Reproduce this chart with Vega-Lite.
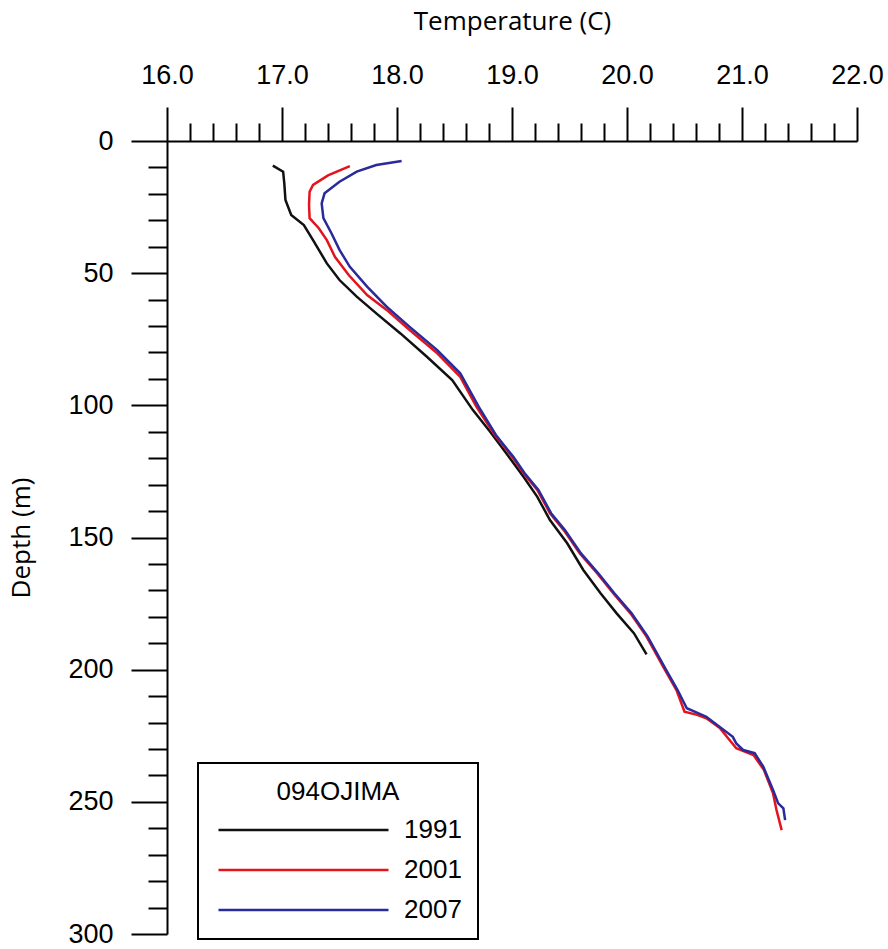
{
  "$schema": "https://vega.github.io/schema/vega-lite/v6.json",
  "autosize": {"type": "none"},
  "padding": {"left": 167, "top": 141, "right": 31, "bottom": 15},
  "width": 690,
  "height": 793,
  "background": "white",
  "config": {
    "view": {"stroke": null},
    "axis": {
      "domainColor": "black", "domainWidth": 2, "tickColor": "black", "tickWidth": 2,
      "labelColor": "black", "labelFont": "Liberation Sans", "labelFontSize": 27,
      "labelFlush": false, "labelOverlap": false,
      "titleFont": "Open Sans", "titleFontSize": 26, "titleFontWeight": "normal", "titleColor": "black",
      "grid": false
    },
    "legend": {
      "labelFont": "Liberation Sans", "labelFontSize": 26, "labelColor": "black",
      "titleFont": "Liberation Sans", "titleFontSize": 26, "titleFontWeight": "normal", "titleColor": "black",
      "strokeWidth": 2
    }
  },
  "data": {"values": [
    {"year": "1991", "depth": 9.3, "temp": 16.92},
    {"year": "1991", "depth": 11.6, "temp": 17.01},
    {"year": "1991", "depth": 16.0, "temp": 17.02},
    {"year": "1991", "depth": 22.3, "temp": 17.03},
    {"year": "1991", "depth": 28.0, "temp": 17.08},
    {"year": "1991", "depth": 31.8, "temp": 17.19},
    {"year": "1991", "depth": 37.5, "temp": 17.27},
    {"year": "1991", "depth": 46.3, "temp": 17.39},
    {"year": "1991", "depth": 52.6, "temp": 17.50},
    {"year": "1991", "depth": 58.9, "temp": 17.65},
    {"year": "1991", "depth": 65.2, "temp": 17.82},
    {"year": "1991", "depth": 72.8, "temp": 18.03},
    {"year": "1991", "depth": 81.6, "temp": 18.26},
    {"year": "1991", "depth": 90.4, "temp": 18.48},
    {"year": "1991", "depth": 101.8, "temp": 18.66},
    {"year": "1991", "depth": 110.0, "temp": 18.81},
    {"year": "1991", "depth": 118.1, "temp": 18.95},
    {"year": "1991", "depth": 127.0, "temp": 19.10},
    {"year": "1991", "depth": 134.6, "temp": 19.22},
    {"year": "1991", "depth": 143.4, "temp": 19.33},
    {"year": "1991", "depth": 152.2, "temp": 19.48},
    {"year": "1991", "depth": 162.3, "temp": 19.62},
    {"year": "1991", "depth": 171.1, "temp": 19.77},
    {"year": "1991", "depth": 178.7, "temp": 19.91},
    {"year": "1991", "depth": 186.2, "temp": 20.06},
    {"year": "1991", "depth": 194.2, "temp": 20.17},
    {"year": "2001", "depth": 9.5, "temp": 17.59},
    {"year": "2001", "depth": 13.0, "temp": 17.40},
    {"year": "2001", "depth": 16.6, "temp": 17.27},
    {"year": "2001", "depth": 19.2, "temp": 17.24},
    {"year": "2001", "depth": 24.0, "temp": 17.235},
    {"year": "2001", "depth": 29.2, "temp": 17.24},
    {"year": "2001", "depth": 33.0, "temp": 17.32},
    {"year": "2001", "depth": 37.5, "temp": 17.39},
    {"year": "2001", "depth": 43.8, "temp": 17.46},
    {"year": "2001", "depth": 50.7, "temp": 17.58},
    {"year": "2001", "depth": 58.3, "temp": 17.74},
    {"year": "2001", "depth": 63.9, "temp": 17.91},
    {"year": "2001", "depth": 71.5, "temp": 18.11},
    {"year": "2001", "depth": 80.3, "temp": 18.35},
    {"year": "2001", "depth": 89.2, "temp": 18.55},
    {"year": "2001", "depth": 100.5, "temp": 18.69},
    {"year": "2001", "depth": 111.2, "temp": 18.85},
    {"year": "2001", "depth": 119.4, "temp": 19.00},
    {"year": "2001", "depth": 125.7, "temp": 19.10},
    {"year": "2001", "depth": 132.0, "temp": 19.22},
    {"year": "2001", "depth": 140.8, "temp": 19.33},
    {"year": "2001", "depth": 147.2, "temp": 19.45},
    {"year": "2001", "depth": 156.0, "temp": 19.59},
    {"year": "2001", "depth": 163.5, "temp": 19.74},
    {"year": "2001", "depth": 171.1, "temp": 19.88},
    {"year": "2001", "depth": 178.7, "temp": 20.03},
    {"year": "2001", "depth": 187.5, "temp": 20.17},
    {"year": "2001", "depth": 200.1, "temp": 20.33},
    {"year": "2001", "depth": 207.7, "temp": 20.43},
    {"year": "2001", "depth": 215.9, "temp": 20.50},
    {"year": "2001", "depth": 217.1, "temp": 20.61},
    {"year": "2001", "depth": 218.4, "temp": 20.69},
    {"year": "2001", "depth": 222.2, "temp": 20.81},
    {"year": "2001", "depth": 229.7, "temp": 20.95},
    {"year": "2001", "depth": 232.3, "temp": 21.10},
    {"year": "2001", "depth": 237.9, "temp": 21.19},
    {"year": "2001", "depth": 246.8, "temp": 21.27},
    {"year": "2001", "depth": 253.1, "temp": 21.30},
    {"year": "2001", "depth": 260.7, "temp": 21.345},
    {"year": "2007", "depth": 7.6, "temp": 18.04},
    {"year": "2007", "depth": 9.1, "temp": 17.82},
    {"year": "2007", "depth": 11.6, "temp": 17.65},
    {"year": "2007", "depth": 15.4, "temp": 17.50},
    {"year": "2007", "depth": 19.8, "temp": 17.37},
    {"year": "2007", "depth": 23.6, "temp": 17.345},
    {"year": "2007", "depth": 29.2, "temp": 17.36},
    {"year": "2007", "depth": 34.9, "temp": 17.43},
    {"year": "2007", "depth": 41.2, "temp": 17.50},
    {"year": "2007", "depth": 47.6, "temp": 17.59},
    {"year": "2007", "depth": 55.1, "temp": 17.74},
    {"year": "2007", "depth": 62.7, "temp": 17.91},
    {"year": "2007", "depth": 70.3, "temp": 18.11},
    {"year": "2007", "depth": 79.1, "temp": 18.35},
    {"year": "2007", "depth": 87.9, "temp": 18.55},
    {"year": "2007", "depth": 100.5, "temp": 18.71},
    {"year": "2007", "depth": 111.2, "temp": 18.86},
    {"year": "2007", "depth": 119.4, "temp": 19.01},
    {"year": "2007", "depth": 125.7, "temp": 19.11},
    {"year": "2007", "depth": 132.0, "temp": 19.23},
    {"year": "2007", "depth": 140.8, "temp": 19.34},
    {"year": "2007", "depth": 147.2, "temp": 19.46},
    {"year": "2007", "depth": 156.0, "temp": 19.60},
    {"year": "2007", "depth": 163.5, "temp": 19.75},
    {"year": "2007", "depth": 171.1, "temp": 19.89},
    {"year": "2007", "depth": 178.7, "temp": 20.04},
    {"year": "2007", "depth": 187.5, "temp": 20.18},
    {"year": "2007", "depth": 200.1, "temp": 20.34},
    {"year": "2007", "depth": 207.7, "temp": 20.44},
    {"year": "2007", "depth": 214.6, "temp": 20.52},
    {"year": "2007", "depth": 217.8, "temp": 20.69},
    {"year": "2007", "depth": 225.4, "temp": 20.92},
    {"year": "2007", "depth": 227.9, "temp": 20.95},
    {"year": "2007", "depth": 230.4, "temp": 21.01},
    {"year": "2007", "depth": 231.6, "temp": 21.11},
    {"year": "2007", "depth": 236.7, "temp": 21.185},
    {"year": "2007", "depth": 245.5, "temp": 21.27},
    {"year": "2007", "depth": 250.6, "temp": 21.315},
    {"year": "2007", "depth": 252.5, "temp": 21.36},
    {"year": "2007", "depth": 256.9, "temp": 21.375}
  ]},
  "layer": [
    {
      "mark": {"type": "point", "opacity": 0},
      "encoding": {
        "x": {"field": "temp", "type": "quantitative",
          "scale": {"domain": [16, 22], "nice": false, "zero": false},
          "axis": {"orient": "top", "values": [16.2,16.4,16.6,16.8,17.2,17.4,17.6,17.8,18.2,18.4,18.6,18.8,19.2,19.4,19.6,19.8,20.2,20.4,20.6,20.8,21.2,21.4,21.6,21.8], "tickSize": 18, "labels": false, "domain": false, "title": null}},
        "y": {"field": "depth", "type": "quantitative",
          "scale": {"domain": [0, 300], "nice": false, "reverse": true},
          "axis": {"orient": "left", "values": [10,20,30,40,60,70,80,90,110,120,130,140,160,170,180,190,210,220,230,240,260,270,280,290], "tickSize": 19, "labels": false, "domain": false, "title": null}}
      }
    },
    {
      "mark": {"type": "line", "strokeWidth": 2.5},
      "encoding": {
        "x": {"field": "temp", "type": "quantitative",
          "axis": {"orient": "top", "values": [16,17,18,19,20,21,22], "format": ".1f", "tickSize": 34, "labelPadding": 18, "title": "Temperature (C)", "titlePadding": 27}},
        "y": {"field": "depth", "type": "quantitative",
          "axis": {"orient": "left", "values": [0,50,100,150,200,250,300], "tickSize": 36, "labelPadding": 18, "title": "Depth (m)", "titlePadding": 33}},
        "order": {"field": "depth", "type": "quantitative"},
        "color": {"field": "year", "type": "nominal",
          "scale": {"domain": ["1991", "2001", "2007"], "range": ["#111111", "#e3141b", "#2a2a9a"]},
          "legend": {"title": "094OJIMA", "orient": "none", "legendX": 31, "legendY": 622,
            "symbolType": "M-1,0H19", "symbolSize": 289, "symbolStrokeWidth": 2.5,
            "labelOffset": 164, "padding": 16, "rowPadding": 14, "titlePadding": 12,
            "titleAnchor": "middle", "strokeColor": "black"}}
      }
    }
  ],
  "resolve": {"axis": {"x": "independent", "y": "independent"}}
}
